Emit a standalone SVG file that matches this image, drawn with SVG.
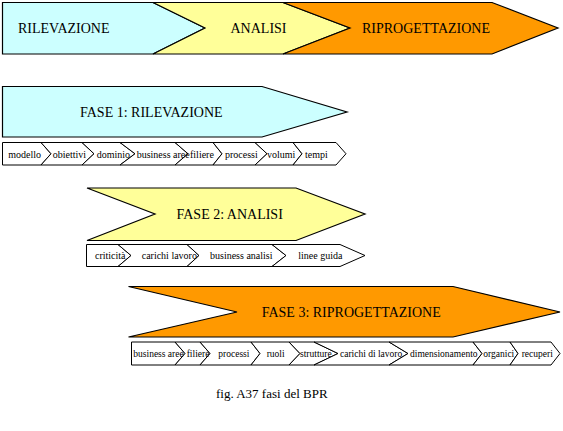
<svg xmlns="http://www.w3.org/2000/svg" width="563" height="431" viewBox="0 0 563 431">
<style>
.s{stroke:#000;stroke-width:1.2;stroke-linejoin:miter}
.c{fill:#CCFFFF}
.y{fill:#FFFF99}
.o{fill:#FF9900}
.w{fill:#FFFFFF;stroke:#000;stroke-width:1}
.t{font-family:"Liberation Serif","Times New Roman",serif;font-size:14px;fill:#000}
.m{font-family:"Liberation Serif","Times New Roman",serif;font-size:10px;fill:#000}
.m3{font-family:"Liberation Serif","Times New Roman",serif;font-size:9.5px;fill:#000}
.cap{font-family:"Liberation Serif","Times New Roman",serif;font-size:13px;fill:#000}
</style>
<rect width="563" height="431" fill="#FFFFFF"/>
<g id="top-rilevazione">
<polygon class="s c" points="2.5,2.5 153,2.5 205,28 153,54 2.5,54"/>
<text class="t" x="18" y="33">RILEVAZIONE</text>
</g>
<g id="top-analisi">
<polygon class="s y" points="153,2.5 283,2.5 350,28 283,54 153,54 205,28"/>
<text class="t" x="230.5" y="33">ANALISI</text>
</g>
<g id="top-riprogettazione">
<polygon class="s o" points="283,2.5 492,2.5 558,28 492,54 283,54 350,28"/>
<text class="t" x="362" y="33">RIPROGETTAZIONE</text>
</g>
<g id="fase1">
<polygon class="s c" points="2.5,86.5 262,86.5 347,112 262,137 2.5,137"/>
<text class="t" x="80" y="117">FASE 1: RILEVAZIONE</text>
</g>
<g id="fase1-steps">
<polygon class="w" points="2.5,142.5 41,142.5 51,153.75 41,165 2.5,165"/>
<polygon class="w" points="41,142.5 82,142.5 94,153.75 82,165 41,165 51,153.75"/>
<polygon class="w" points="82,142.5 120,142.5 135,153.75 120,165 82,165 94,153.75"/>
<polygon class="w" points="120,142.5 175,142.5 188,153.75 175,165 120,165 135,153.75"/>
<polygon class="w" points="175,142.5 213,142.5 222,153.75 213,165 175,165 188,153.75"/>
<polygon class="w" points="213,142.5 255,142.5 267,153.75 255,165 213,165 222,153.75"/>
<polygon class="w" points="255,142.5 293,142.5 302,153.75 293,165 255,165 267,153.75"/>
<polygon class="w" points="293,142.5 336,142.5 346,153.75 336,165 293,165 302,153.75"/>
<text class="m" x="8.3" y="158">modello</text>
<text class="m" x="52.7" y="158">obiettivi</text>
<text class="m" x="96.7" y="158">dominio</text>
<text class="m" x="136.7" y="158">business aree</text>
<text class="m" x="190" y="158">filiere</text>
<text class="m" x="225" y="158">processi</text>
<text class="m" x="267" y="158">volumi</text>
<text class="m" x="305" y="158">tempi</text>
</g>
<g id="fase2">
<polygon class="s y" points="87,188 296,188 365,214 296,240.5 87,240.5 155,214"/>
<text class="t" x="176.5" y="218.5">FASE 2: ANALISI</text>
</g>
<g id="fase2-steps">
<polygon class="w" points="86.5,244.5 118,244.5 131,255.5 118,266.5 86.5,266.5"/>
<polygon class="w" points="118,244.5 187,244.5 199,255.5 187,266.5 118,266.5 131,255.5"/>
<polygon class="w" points="187,244.5 272,244.5 286,255.5 272,266.5 187,266.5 199,255.5"/>
<polygon class="w" points="272,244.5 340,244.5 365,255.5 340,266.5 272,266.5 286,255.5"/>
<text class="m" x="95" y="258.5">criticità</text>
<text class="m" x="141.7" y="258.5">carichi lavoro</text>
<text class="m" x="210" y="258.5">business analisi</text>
<text class="m" x="298.3" y="258.5">linee guida</text>
</g>
<g id="fase3">
<polygon class="s o" points="128.5,286.5 453,286.5 560,312 453,337 128.5,337 237,312"/>
<text class="t" x="261.7" y="316.7">FASE 3: RIPROGETTAZIONE</text>
</g>
<g id="fase3-steps">
<polygon class="w" points="131.5,342 175,342 185,353.5 175,365 131.5,365"/>
<polygon class="w" points="175,342 200,342 210,353.5 200,365 175,365 185,353.5"/>
<polygon class="w" points="200,342 251,342 260,353.5 251,365 200,365 210,353.5"/>
<polygon class="w" points="251,342 289,342 300,353.5 289,365 251,365 260,353.5"/>
<polygon class="w" points="289,342 314,342 338,353.5 314,365 289,365 300,353.5"/>
<polygon class="w" points="314,342 389,342 408,353.5 389,365 314,365 338,353.5"/>
<polygon class="w" points="389,342 473,342 482,353.5 473,365 389,365 408,353.5"/>
<polygon class="w" points="473,342 510,342 518,353.5 510,365 473,365 482,353.5"/>
<polygon class="w" points="510,342 551,342 560,353.5 551,365 510,365 518,353.5"/>
<text class="m3" x="133.3" y="356.5">business aree</text>
<text class="m3" x="186.7" y="356.5">filiere</text>
<text class="m3" x="218.3" y="356.5">processi</text>
<text class="m3" x="266.7" y="356.5">ruoli</text>
<text class="m3" x="300" y="356.5">strutture</text>
<text class="m3" x="340" y="356.5">carichi di lavoro</text>
<text class="m3" x="410" y="356.5">dimensionamento</text>
<text class="m3" x="483.3" y="356.5">organici</text>
<text class="m3" x="521.7" y="356.5">recuperi</text>
</g>
<g id="connectors"></g>
<g id="caption">
<text class="cap" x="216" y="398.3">fig. A37 fasi del BPR</text>
</g>
</svg>
